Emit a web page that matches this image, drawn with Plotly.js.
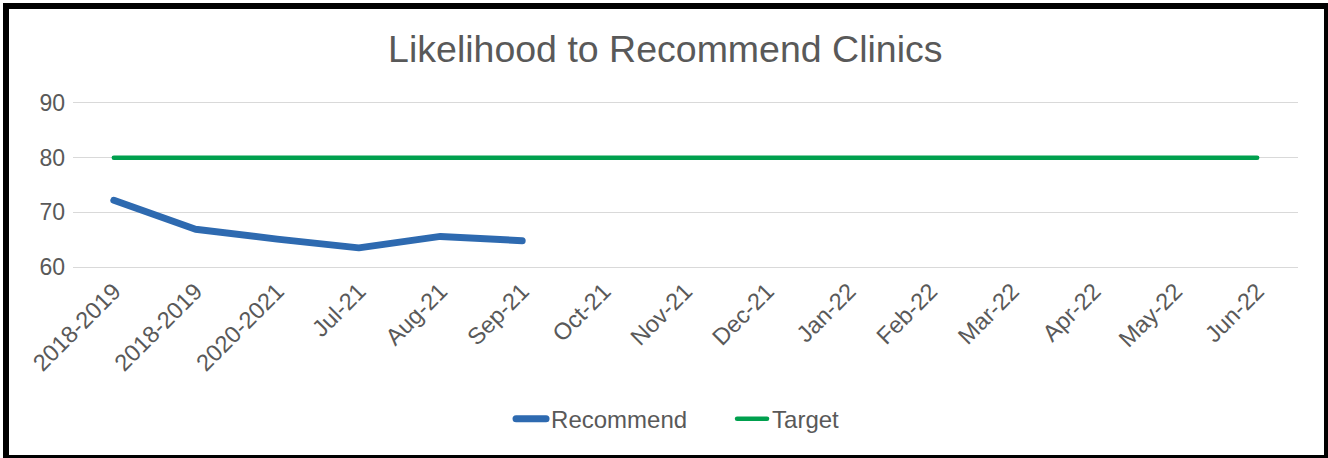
<!DOCTYPE html>
<html>
<head>
<meta charset="utf-8">
<script src="https://cdn.plot.ly/plotly-3.0.1.min.js"></script>
<style>
  html, body { margin: 0; padding: 0; background: #fff; overflow: hidden; }
  #wrap { position: relative; width: 1328px; height: 458px; }
  #chart { position: absolute; left: 0; top: 0; width: 1328px; height: 458px; }
  #frame {
    position: absolute; left: 3px; top: 3px;
    width: 1315px; height: 446px;
    border: 6px solid #000; pointer-events: none;
  }
  .js-line, .legendlines path { stroke-linecap: round; stroke-linejoin: round; }
</style>
</head>
<body>
<div id="wrap">
  <div id="chart"></div>
  <div id="frame"></div>
</div>
<script>
// Period labels shown along the x axis (the first two repeat on purpose)
const periodLabels = [
  "2018-2019", "2018-2019", "2020-2021", "Jul-21", "Aug-21", "Sep-21",
  "Oct-21", "Nov-21", "Dec-21", "Jan-22", "Feb-22", "Mar-22",
  "Apr-22", "May-22", "Jun-22"
];

// Likelihood-to-recommend score reported so far
const recommendValues = [72.2, 66.9, 65.1, 63.5, 65.6, 64.8];

// Target score for every period
const targetValues = [80, 80, 80, 80, 80, 80, 80, 80, 80, 80, 80, 80, 80, 80, 80];

// Positional x so repeated labels stay as separate categories
const positions = periodLabels.map((_, i) => i);

const textColor = "#595959";
const fontFamily = "'Liberation Sans', Arial, sans-serif";

const traces = [
  {
    name: "Recommend",
    type: "scatter",
    mode: "lines",
    x: positions.slice(0, recommendValues.length),
    y: recommendValues,
    line: { color: "#2E6AB0", width: 7 },
    hoverinfo: "skip"
  },
  {
    name: "Target",
    type: "scatter",
    mode: "lines",
    x: positions,
    y: targetValues,
    line: { color: "#00A04E", width: 4.5 },
    hoverinfo: "skip"
  }
];

const layout = {
  width: 1328,
  height: 458,
  margin: { l: 73, r: 30, t: 103, b: 191 },
  paper_bgcolor: "#ffffff",
  plot_bgcolor: "#ffffff",
  font: { family: fontFamily, color: textColor, size: 23 },
  title: {
    text: "Likelihood to Recommend Clinics",
    font: { family: fontFamily, size: 37.5, color: textColor },
    xref: "container", x: 0.501, xanchor: "center",
    yref: "container", y: 0.893, yanchor: "middle"
  },
  xaxis: {
    range: [-0.5, periodLabels.length - 0.5],
    tickvals: positions,
    ticktext: periodLabels,
    tickangle: -45,
    showgrid: false,
    zeroline: false,
    showline: true,
    mirror: true,
    linecolor: "#D9D9D9",
    linewidth: 1.3,
    ticks: "",
    tickfont: { size: 23.5, color: textColor },
    fixedrange: true
  },
  yaxis: {
    range: [60, 90],
    tickvals: [60, 70, 80, 90],
    showgrid: true,
    gridcolor: "#D9D9D9",
    gridwidth: 1.3,
    zeroline: false,
    showline: false,
    ticks: "",
    ticklabelstandoff: 7,
    tickfont: { size: 23, color: textColor },
    fixedrange: true
  },
  showlegend: true,
  legend: {
    orientation: "h",
    x: 0.538, xanchor: "center",
    y: -0.928, yanchor: "middle",
    font: { size: 24, color: textColor },
    entrywidth: 176,
    tracegroupgap: 0
  }
};

Plotly.newPlot("chart", traces, layout, { staticPlot: true, displayModeBar: false });
</script>
</body>
</html>
